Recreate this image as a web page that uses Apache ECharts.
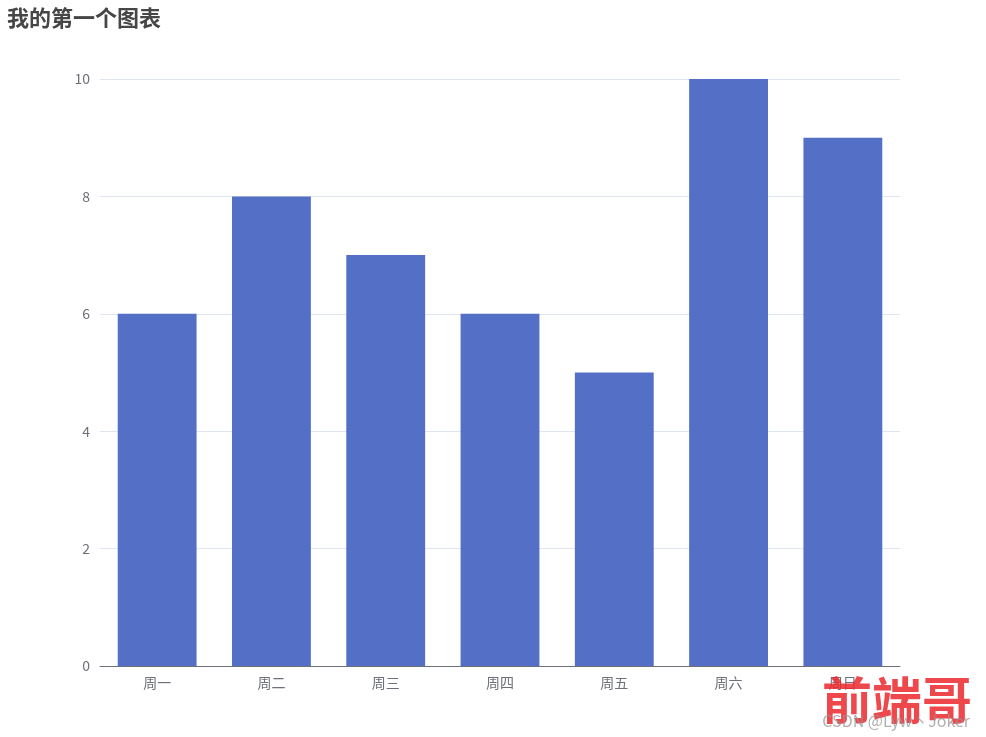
<!DOCTYPE html>
<html>
<head>
<meta charset="utf-8">
<style>html,body{margin:0;padding:0;background:#fff;}#c{width:986px;height:737px;}</style>
<script src="https://cdn.jsdelivr.net/npm/echarts@6/dist/echarts.min.js"></script>
</head>
<body>
<div id="c"></div>
<script>
var categories = ['周一', '周二', '周三', '周四', '周五', '周六', '周日'];
var values = [6, 8, 7, 6, 5, 10, 9];
var titleText = '我的第一个图表';

var chart = echarts.init(document.getElementById('c'));
chart.setOption({
  textStyle: { fontFamily: '"Noto Sans CJK SC", sans-serif' },
  title: {
    text: titleText, left: 2, top: 2,
    textStyle: { fontSize: 22, fontWeight: 'bold', color: '#464646', fontFamily: '"Noto Sans CJK SC", sans-serif' }
  },
  grid: { left: 100, right: 86, top: 79, bottom: 71 },
  xAxis: {
    type: 'category', data: categories,
    axisLine: { lineStyle: { color: '#6e7079' } },
    axisTick: { lineStyle: { color: '#6e7079' }, length: 6 },
    axisLabel: { fontSize: 14, color: '#6e7079', margin: 10 }
  },
  yAxis: {
    type: 'value', min: 0, max: 10, interval: 2,
    axisLabel: { fontSize: 14, color: '#6e7079', margin: 10 },
    splitLine: { lineStyle: { color: '#e0e6f1' } }
  },
  series: [{ type: 'bar', data: values, barWidth: '69%', itemStyle: { color: '#5470c6' } }],
  graphic: [
    { type: 'text', right: 14, bottom: 12, z: 100,
      style: { text: '前端哥', fill: 'rgba(235,40,45,0.85)', font: 'bold 50px "Noto Sans CJK SC"' } },
    { type: 'text', right: 16, bottom: 8, z: 101,
      style: { text: 'CSDN @Lyw丶Joker', fill: 'rgba(150,150,150,0.75)', font: '16px "Noto Sans CJK SC"' } }
  ]
});
</script>
</body>
</html>
